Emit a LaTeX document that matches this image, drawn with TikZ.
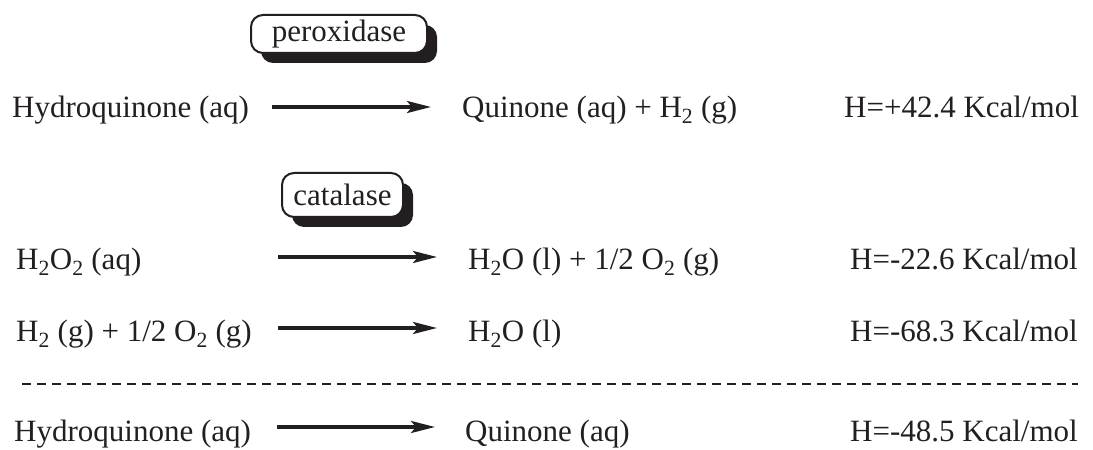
\documentclass[tikz,border=0pt]{standalone}
\usepackage{fontspec}
\setmainfont{Liberation Serif}
\usetikzlibrary{arrows.meta,shadows}
\definecolor{ink}{RGB}{35,31,32}
\begin{document}
\begin{tikzpicture}[x=1pt,y=1pt,
  txt/.style={anchor=base west,inner sep=0pt,text=ink,font=\fontsize{31}{36}\selectfont},
  enz/.style={draw=ink,line width=2pt,rounded corners=12pt,fill=white,text=ink,
    font=\fontsize{31}{36}\selectfont,inner sep=0pt,
    drop shadow={shadow xshift=10pt,shadow yshift=-10pt,fill=ink,opacity=1}},
  rxn/.style={draw=ink,line width=3.3pt,-{Stealth[length=24pt,width=12pt,inset=5pt]}},
  sep/.style={draw=ink,line width=2.5pt,dash pattern=on 9pt off 6pt}]
\useasboundingbox (0,0) rectangle (1093,450);
% enzyme labels
\node[enz,minimum width=176pt,minimum height=38pt] (perox) at (339,416) {peroxidase};
\node[enz,minimum width=121pt,minimum height=44pt] (catal) at (342.5,255) {catalase};
% row 1
\node[txt] (r1l) at (12,332) {Hydroquinone (aq)};
\node[txt] (r1r) at (462,332) {Quinone (aq) + H\textsubscript{2} (g)};
\node[txt] (r1h) at (844,332) {H=+42.4 Kcal/mol};
\coordinate (a1s) at (272,343);
\coordinate (a1e) at (431,343);
\draw[rxn] (a1s) -- (a1e);
% row 2
\node[txt] (r2l) at (16,180) {H\textsubscript{2}O\textsubscript{2} (aq)};
\node[txt] (r2r) at (468,180) {H\textsubscript{2}O (l) + 1/2 O\textsubscript{2} (g)};
\node[txt] (r2h) at (850,180) {H=-22.6 Kcal/mol};
\coordinate (a2s) at (278,193);
\coordinate (a2e) at (437,193);
\draw[rxn] (a2s) -- (a2e);
% row 3
\node[txt] (r3l) at (16,108) {H\textsubscript{2} (g) + 1/2 O\textsubscript{2} (g)};
\node[txt] (r3r) at (468,108) {H\textsubscript{2}O (l)};
\node[txt] (r3h) at (850,108) {H=-68.3 Kcal/mol};
\coordinate (a3s) at (278,122);
\coordinate (a3e) at (437,122);
\draw[rxn] (a3s) -- (a3e);
% separator
\coordinate (ds) at (22,66);
\coordinate (de) at (1078,66);
\draw[sep] (ds) -- (de);
% row 4
\node[txt] (r4l) at (14,9) {Hydroquinone (aq)};
\node[txt] (r4r) at (465,9) {Quinone (aq)};
\node[txt] (r4h) at (850,9) {H=-48.5 Kcal/mol};
\coordinate (a4s) at (277,23);
\coordinate (a4e) at (435,23);
\draw[rxn] (a4s) -- (a4e);
\end{tikzpicture}
\end{document}
